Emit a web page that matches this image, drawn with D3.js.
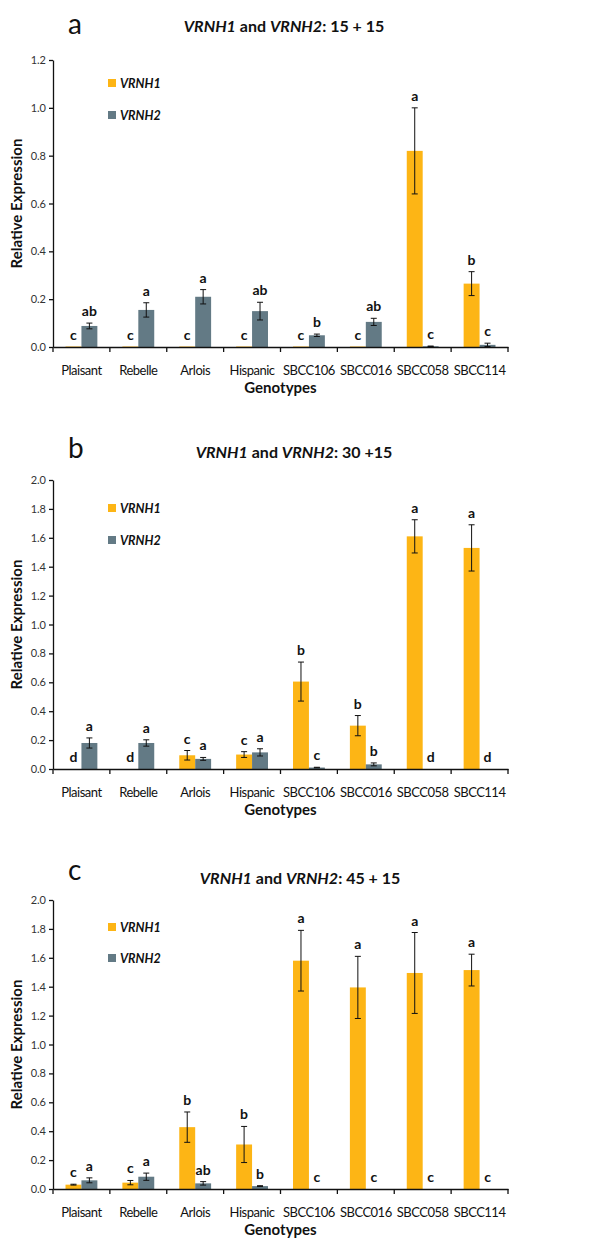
<!DOCTYPE html>
<html>
<head>
<meta charset="utf-8">
<script src="https://cdn.jsdelivr.net/npm/d3@7"></script>
<style>
  html, body { margin: 0; padding: 0; background: #fff; }
  svg { display: block; font-family: Lato, "Open Sans", sans-serif; }
</style>
</head>
<body>
<svg id="chart" width="600" height="1259"></svg>
<script>
// ---------- DATA ----------
const categories = ["Plaisant", "Rebelle", "Arlois", "Hispanic", "SBCC106", "SBCC016", "SBCC058", "SBCC114"];
const seriesNames = ["VRNH1", "VRNH2"];

// Panel a: 15 + 15
const a_vrnh1     = [0.002, 0.002, 0.002, 0.002, 0.002, 0.002, 0.82, 0.265];
const a_vrnh1_err = [0, 0, 0, 0, 0, 0, 0.18, 0.05];
const a_vrnh1_sig = ["c", "c", "c", "c", "c", "c", "a", "b"];
const a_vrnh2     = [0.088, 0.155, 0.21, 0.15, 0.049, 0.105, 0.003, 0.009];
const a_vrnh2_err = [0.012, 0.03, 0.03, 0.037, 0.005, 0.015, 0.001, 0.007];
const a_vrnh2_sig = ["ab", "a", "a", "ab", "b", "ab", "c", "c"];
const a_ticks     = [0, 0.2, 0.4, 0.6, 0.8, 1.0, 1.2];

// Panel b: 30 + 15
const b_vrnh1     = [-0.005, -0.005, 0.095, 0.10, 0.605, 0.30, 1.61, 1.53];
const b_vrnh1_err = [0, 0, 0.033, 0.02, 0.135, 0.07, 0.115, 0.16];
const b_vrnh1_sig = ["d", "d", "c", "c", "b", "b", "a", "a"];
const b_vrnh2     = [0.18, 0.18, 0.07, 0.115, 0.01, 0.032, 0.0, -0.005];
const b_vrnh2_err = [0.035, 0.022, 0.01, 0.025, 0.002, 0.01, 0, 0];
const b_vrnh2_sig = ["a", "a", "a", "a", "c", "b", "d", "d"];
const b_ticks     = [0, 0.2, 0.4, 0.6, 0.8, 1.0, 1.2, 1.4, 1.6, 1.8, 2.0];

// Panel c: 45 + 15
const c_vrnh1     = [0.03, 0.044, 0.428, 0.308, 1.58, 1.395, 1.495, 1.515];
const c_vrnh1_err = [0.003, 0.015, 0.105, 0.125, 0.21, 0.215, 0.28, 0.11];
const c_vrnh1_sig = ["c", "c", "b", "b", "a", "a", "a", "a"];
const c_vrnh2     = [0.06, 0.085, 0.039, 0.02, 0, 0, 0, 0];
const c_vrnh2_err = [0.017, 0.025, 0.012, 0.003, 0, 0, 0, 0];
const c_vrnh2_sig = ["a", "a", "ab", "b", "c", "c", "c", "c"];
const c_ticks     = [0, 0.2, 0.4, 0.6, 0.8, 1.0, 1.2, 1.4, 1.6, 1.8, 2.0];

const panels = [
  { letter: "a", suffix: ": 15 + 15", max: 1.2, ticks: a_ticks,
    v1: a_vrnh1, e1: a_vrnh1_err, s1: a_vrnh1_sig, v2: a_vrnh2, e2: a_vrnh2_err, s2: a_vrnh2_sig,
    top: 60, bottom: 347, titleY: 32, letterY: 34, titleX: 284, legY: [83, 115] },
  { letter: "b", suffix: ": 30 +15", max: 2.0, ticks: b_ticks,
    v1: b_vrnh1, e1: b_vrnh1_err, s1: b_vrnh1_sig, v2: b_vrnh2, e2: b_vrnh2_err, s2: b_vrnh2_sig,
    top: 480, bottom: 769, titleY: 458, letterY: 458, titleX: 294, legY: [508, 540] },
  { letter: "c", suffix: ": 45 + 15", max: 2.0, ticks: c_ticks,
    v1: c_vrnh1, e1: c_vrnh1_err, s1: c_vrnh1_sig, v2: c_vrnh2, e2: c_vrnh2_err, s2: c_vrnh2_sig,
    top: 900, bottom: 1189, titleY: 884, letterY: 880, titleX: 300, legY: [927, 958] }
];

// ---------- STYLE ----------
const colors = { VRNH1: "#FDB515", VRNH2: "#637A85" };
const xLeft = 53, xRight = 508;

const svg = d3.select("#chart");

const x = d3.scaleBand().domain(categories).range([xLeft, xRight]).paddingInner(0).paddingOuter(0);
const bw = x.bandwidth();
const xs = d3.scaleBand().domain(seriesNames).range([bw * 0.22, bw * 0.78]).padding(0);

panels.forEach(p => {
  const g = svg.append("g");
  const y = d3.scaleLinear().domain([0, p.max]).range([p.bottom, p.top]);

  // panel letter
  g.append("text").attr("x", 68).attr("y", p.letterY)
    .attr("font-size", 28).attr("fill", "#111").text(p.letter);

  // title
  const t = g.append("text").attr("x", p.titleX).attr("y", p.titleY)
    .attr("text-anchor", "middle").attr("font-size", 16).attr("font-weight", "bold").attr("fill", "#111");
  t.append("tspan").attr("font-style", "italic").text("VRNH1");
  t.append("tspan").text(" and ");
  t.append("tspan").attr("font-style", "italic").text("VRNH2");
  t.append("tspan").text(p.suffix);

  // data rows
  const rows = [];
  categories.forEach((c, i) => {
    rows.push({ cat: c, s: "VRNH1", v: p.v1[i], e: p.e1[i], sig: p.s1[i] });
    rows.push({ cat: c, s: "VRNH2", v: p.v2[i], e: p.e2[i], sig: p.s2[i] });
  });

  // bars
  g.selectAll("rect.bar").data(rows).enter().append("rect")
    .attr("class", "bar")
    .attr("x", d => x(d.cat) + xs(d.s))
    .attr("width", xs.bandwidth())
    .attr("y", d => Math.min(y(d.v), y(0)))
    .attr("height", d => Math.max(Math.abs(y(d.v) - y(0)), 0.8))
    .attr("fill", d => colors[d.s]);

  // error bars
  const eb = rows.filter(d => d.e > 0);
  const cx = d => x(d.cat) + xs(d.s) + xs.bandwidth() / 2;
  const capW = 3;
  const eg = g.selectAll("g.err").data(eb).enter().append("g").attr("class", "err")
    .attr("stroke", "#111").attr("stroke-width", 1);
  eg.append("line").attr("x1", cx).attr("x2", cx).attr("y1", d => y(d.v - d.e)).attr("y2", d => y(d.v + d.e));
  eg.append("line").attr("x1", d => cx(d) - capW).attr("x2", d => cx(d) + capW).attr("y1", d => y(d.v + d.e)).attr("y2", d => y(d.v + d.e));
  eg.append("line").attr("x1", d => cx(d) - capW).attr("x2", d => cx(d) + capW).attr("y1", d => y(d.v - d.e)).attr("y2", d => y(d.v - d.e));

  // significance letters
  g.selectAll("text.sig").data(rows).enter().append("text")
    .attr("class", "sig")
    .attr("x", cx)
    .attr("y", d => y(Math.max(d.v + d.e, 0)) - 7)
    .attr("text-anchor", "middle")
    .attr("font-size", 14).attr("font-weight", "bold").attr("fill", "#111")
    .text(d => d.sig);

  // y axis
  const ya = g.append("g").attr("transform", `translate(${xLeft},0)`)
    .call(d3.axisLeft(y).tickValues(p.ticks).tickFormat(d3.format(".1f")).tickSize(4).tickSizeOuter(0));
  ya.select(".domain").attr("stroke", "#111").attr("stroke-width", 1.3);
  ya.selectAll(".tick line").attr("stroke", "#111").attr("stroke-width", 1.3);
  ya.selectAll(".tick text").attr("font-size", 11).attr("fill", "#333").attr("font-family", "Lato, sans-serif").attr("x", -7);

  // x axis
  const xa = g.append("g").attr("transform", `translate(0,${y(0)})`)
    .call(d3.axisBottom(x).tickSize(0).tickSizeOuter(0).tickPadding(19));
  xa.select(".domain").attr("stroke", "#111").attr("stroke-width", 1.5);
  xa.selectAll(".tick text").attr("font-size", 13).attr("letter-spacing", "-0.5px").attr("fill", "#111").attr("font-family", "Lato, sans-serif");
  // boundary tick marks
  const bounds = categories.map(c => x(c)).concat([x(categories[categories.length - 1]) + bw]);
  g.selectAll("line.bt").data(bounds).enter().append("line").attr("class", "bt")
    .attr("x1", d => d).attr("x2", d => d).attr("y1", y(0)).attr("y2", y(0) + 5)
    .attr("stroke", "#111").attr("stroke-width", 1.3);

  // x axis title
  g.append("text").attr("x", (xLeft + xRight) / 2).attr("y", y(0) + 46)
    .attr("text-anchor", "middle").attr("font-size", 15).attr("font-weight", "bold").attr("fill", "#111")
    .text("Genotypes");

  // y axis title
  g.append("text")
    .attr("transform", `translate(22,${(p.top + p.bottom) / 2}) rotate(-90)`)
    .attr("text-anchor", "middle").attr("font-size", 15).attr("font-weight", "bold").attr("fill", "#111")
    .text("Relative Expression");

  // legend
  seriesNames.forEach((s, i) => {
    g.append("rect").attr("x", 108).attr("y", p.legY[i] - 4).attr("width", 8).attr("height", 8).attr("fill", colors[s]);
    g.append("text").attr("x", 120).attr("y", p.legY[i] + 4.5)
      .attr("font-size", 12.5).attr("font-weight", "bold").attr("font-style", "italic").attr("fill", "#111").text(s);
  });
});
</script>
</body>
</html>
